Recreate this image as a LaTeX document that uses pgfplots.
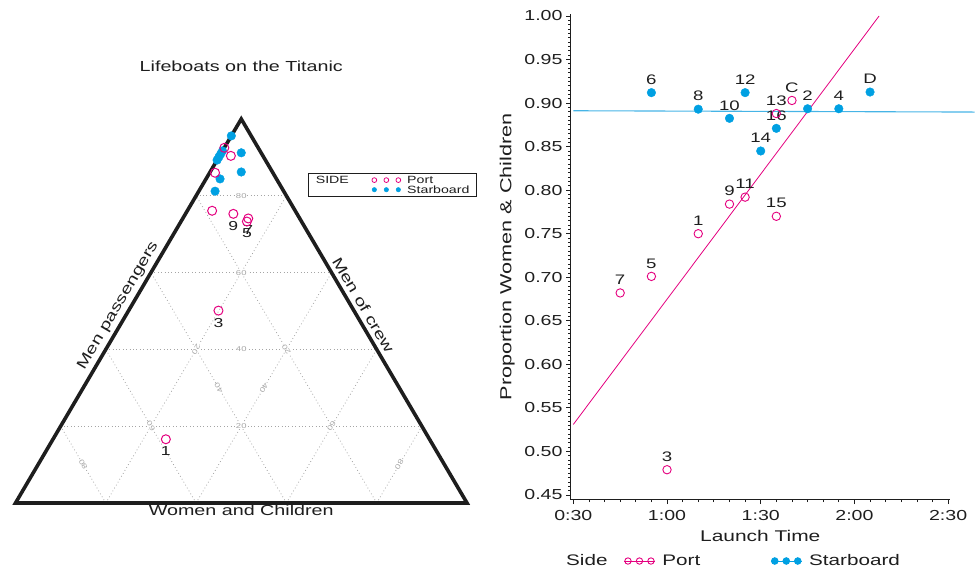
\documentclass[border=0pt]{standalone}
\usepackage{fontspec}
\setmainfont{Liberation Sans}[FakeStretch=1.35]
\usepackage{pgfplots}
\usepackage{pgfplotstable}
\pgfplotsset{compat=1.18}

\definecolor{portc}{RGB}{228,0,127}
\definecolor{starc}{RGB}{0,160,226}
\definecolor{starline}{RGB}{70,180,230}
\definecolor{ink}{RGB}{30,30,30}
\definecolor{gridc}{RGB}{165,165,165}

% launch time (minutes after midnight) and proportion of women & children
\pgfplotstableread{
lab t p
7 45 0.682
5 55 0.701
3 60 0.479
1 70 0.750
9 80 0.784
11 85 0.792
13 95 0.888
15 95 0.770
C 100 0.903
}\portlaunch
\pgfplotstableread{
lab t p
6 55 0.912
8 70 0.893
10 80 0.8825
12 85 0.912
14 90 0.845
16 95 0.871
2 105 0.8935
4 115 0.8935
D 125 0.9127
}\starlaunch

% make-up of each boat: women & children, men passengers, men of crew
\pgfplotstableread{
lab wc pass crew
{} 0.925 0.000 0.075
{} 0.904 0.025 0.071
{} 0.860 0.012 0.128
{} 0.761 0.055 0.184
9 0.753 0.106 0.141
7 0.741 0.145 0.114
5 0.733 0.146 0.121
3 0.501 0.199 0.300
1 0.166 0.250 0.584
}\portmix
\pgfplotstableread{
wc pass crew
0.956 0.000 0.044
0.912 0.044 0.044
0.917 0.000 0.083
0.909 0.000 0.091
0.901 0.000 0.099
0.893 0.000 0.107
0.862 0.069 0.069
0.844 0.031 0.125
0.812 0.036 0.152
}\starmix

\tikzset{
  gridline/.style={gridc, line width=0.8pt, dash pattern=on 0.8pt off 2.6pt},
  gridlab/.style={text=gridc, font=\fontsize{7}{8}\selectfont, fill=white, inner sep=0.6pt},
}
\pgfplotsset{
  three marks/.style={legend image code/.code={
    \draw[##1] plot coordinates {(0pt,0pt)};
    \draw[##1] plot coordinates {(12pt,0pt)};
    \draw[##1] plot coordinates {(24pt,0pt)};}},
  three marks line/.style={legend image code/.code={
    \draw[##1] (0pt,0pt) -- (31pt,0pt);
    \draw[##1] plot coordinates {(4pt,0pt)};
    \draw[##1] plot coordinates {(15.5pt,0pt)};
    \draw[##1] plot coordinates {(27pt,0pt)};}},
}

\begin{document}
\begin{tikzpicture}
\useasboundingbox (0,0) rectangle (976pt,571pt);

% ---------------- ternary diagram ----------------
\begin{axis}[
  at={(15.5pt,68pt)}, anchor=south west,
  scale only axis, width=451.5pt, height=384pt,
  xmin=0, xmax=1, ymin=0, ymax=1,
  hide axis, clip=false,
  legend columns=2, legend cell align=left,
  legend style={at={(0.6485,0.860)}, anchor=north west,
    draw=ink, line width=1.1pt, fill=white,
    inner xsep=7pt, inner ysep=2.5pt,
    font=\fontsize{10.5}{12}\selectfont, text=ink,
    column sep=0pt, row sep=1pt,
    nodes={inner sep=0pt, text height=7.6pt, text depth=1pt},
    /tikz/column 2/.style={column sep=23pt},
    /tikz/column 3/.style={column sep=6.5pt}},
]
\addlegendimage{empty legend}
\addlegendentry{SIDE}
\addlegendimage{portc, mark=o, mark size=2.4pt, line width=0.8pt, three marks}
\addlegendentry{Port}
\addlegendimage{empty legend}
\addlegendentry{}
\addlegendimage{starc, mark=*, mark size=2.2pt, line width=0.5pt, three marks}
\addlegendentry{Starboard}

% grid: constant women & children
\addplot[gridline] coordinates {(0.1,0.2) (0.9,0.2)};
\addplot[gridline] coordinates {(0.2,0.4) (0.8,0.4)};
\addplot[gridline] coordinates {(0.3,0.6) (0.7,0.6)};
\addplot[gridline] coordinates {(0.4,0.8) (0.6,0.8)};
% grid: constant men of crew
\addplot[gridline] coordinates {(0.2,0) (0.1,0.2)};
\addplot[gridline] coordinates {(0.4,0) (0.2,0.4)};
\addplot[gridline] coordinates {(0.6,0) (0.3,0.6)};
\addplot[gridline] coordinates {(0.8,0) (0.4,0.8)};
% grid: constant men passengers
\addplot[gridline] coordinates {(0.2,0) (0.6,0.8)};
\addplot[gridline] coordinates {(0.4,0) (0.7,0.6)};
\addplot[gridline] coordinates {(0.6,0) (0.8,0.4)};
\addplot[gridline] coordinates {(0.8,0) (0.9,0.2)};

\node[gridlab] at (axis cs:0.5,0.2) {20};
\node[gridlab] at (axis cs:0.5,0.4) {40};
\node[gridlab] at (axis cs:0.5,0.6) {60};
\node[gridlab] at (axis cs:0.5,0.8) {80};
\node[gridlab, rotate=120.45] at (axis cs:0.15,0.1) {80};
\node[gridlab, rotate=120.45] at (axis cs:0.30,0.2) {60};
\node[gridlab, rotate=120.45] at (axis cs:0.45,0.3) {40};
\node[gridlab, rotate=120.45] at (axis cs:0.60,0.4) {20};
\node[gridlab, rotate=239.55] at (axis cs:0.40,0.4) {20};
\node[gridlab, rotate=239.55] at (axis cs:0.55,0.3) {40};
\node[gridlab, rotate=239.55] at (axis cs:0.70,0.2) {60};
\node[gridlab, rotate=239.55] at (axis cs:0.85,0.1) {80};

% triangle frame
\addplot[ink, line width=3.6pt, line join=miter, line cap=butt]
  coordinates {(0,0) (1,0) (0.5,1) (0,0) (1,0)};

% boats
\addplot[only marks, mark=*, mark size=4.3pt, starc]
  table[x expr=\thisrow{pass}+0.5*\thisrow{wc}, y=wc] {\starmix};
\addplot[only marks, mark=o, mark size=4.5pt, portc, line width=1pt,
  nodes near coords, point meta=explicit symbolic,
  nodes near coords align=center,
  every node near coord/.append style={yshift=-12pt, text=ink,
    font=\fontsize{13}{14}\selectfont}]
  table[x expr=\thisrow{pass}+0.5*\thisrow{wc}, y=wc, meta=lab] {\portmix};

\node[text=ink, font=\fontsize{14.6}{16}\selectfont] at (axis cs:0.5,1.136) {Lifeboats on the Titanic};
\node[text=ink, font=\fontsize{14.6}{16}\selectfont] at (axis cs:0.5,-0.020) {Women and Children};
\node[text=ink, font=\fontsize{14.6}{16}\selectfont, rotate=59.55] at (axis cs:0.2277,0.5138) {Men passengers};
\node[text=ink, font=\fontsize{14.6}{16}\selectfont, rotate=-59.55] at (axis cs:0.7703,0.5156) {Men of crew};
\end{axis}

% ---------------- launch time scatter ----------------
\begin{axis}[
  at={(570.5pt,71.5pt)}, anchor=south west,
  scale only axis, width=379.5pt, height=485.5pt,
  xmin=29.1, xmax=150.6, ymin=0.4448, ymax=1.0023,
  clip=false,
  axis x line*=bottom, axis y line*=left,
  axis line style={ink, line width=0.9pt},
  xtick={30,60,90,120,150},
  xticklabels={0:30,1:00,1:30,2:00,2:30},
  ytick={0.45,0.50,0.55,0.60,0.65,0.70,0.75,0.80,0.85,0.90,0.95,1.00},
  minor x tick num=5, minor y tick num=9,
  tick align=outside, major tick length=4.5pt, minor tick length=2.5pt,
  tick style={ink, line width=0.8pt},
  /pgf/number format/assume math mode=true,
  yticklabel style={/pgf/number format/fixed,
    /pgf/number format/fixed zerofill,
    /pgf/number format/precision=2},
  tick label style={font=\fontsize{14.5}{16}\selectfont, text=ink},
  xticklabel style={yshift=-2.5pt},
  xlabel={Launch Time},
  ylabel={Proportion Women \& Children},
  x label style={at={(axis description cs:0.5,-0.075)}, anchor=center,
    font=\fontsize{15.5}{17}\selectfont, text=ink},
  y label style={at={(axis description cs:-0.167,0.5)}, anchor=center,
    font=\fontsize{16}{18}\selectfont, text=ink},
  legend columns=3, legend cell align=left,
  legend style={at={(-0.0119,-0.1267)}, anchor=west,
    draw=none, fill=none, inner sep=0pt,
    font=\fontsize{15.3}{17}\selectfont, text=ink,
    column sep=0pt, nodes={inner sep=0pt},
    /tikz/column 2/.style={column sep=16pt},
    /tikz/column 3/.style={column sep=7pt},
    /tikz/column 4/.style={column sep=70pt},
    /tikz/column 5/.style={column sep=7pt}},
]
\addlegendimage{empty legend}
\addlegendentry{Side}
\addlegendimage{portc, mark=o, mark size=3.2pt, line width=0.9pt, three marks line}
\addlegendentry{Port}
\addlegendimage{starc, mark=*, mark size=3.3pt, line width=0.9pt, three marks line}
\addlegendentry{Starboard}

% fitted lines for each side
\addplot[portc, line width=0.8pt] coordinates {(30,0.531) (127.9,1.0)};
\addplot[starline, line width=1.1pt] coordinates {(30,0.8912) (158.5,0.8897)};

\addplot[only marks, mark=*, mark size=4.3pt, starc,
  nodes near coords, point meta=explicit symbolic,
  nodes near coords align=center,
  every node near coord/.append style={yshift=13pt, text=ink,
    font=\fontsize{13.8}{15}\selectfont}]
  table[x=t, y=p, meta=lab] {\starlaunch};
\addplot[only marks, mark=o, mark size=4.2pt, portc, line width=0.9pt,
  nodes near coords, point meta=explicit symbolic,
  nodes near coords align=center,
  every node near coord/.append style={yshift=13pt, text=ink,
    font=\fontsize{13.8}{15}\selectfont}]
  table[x=t, y=p, meta=lab] {\portlaunch};
\end{axis}
\end{tikzpicture}
\end{document}
